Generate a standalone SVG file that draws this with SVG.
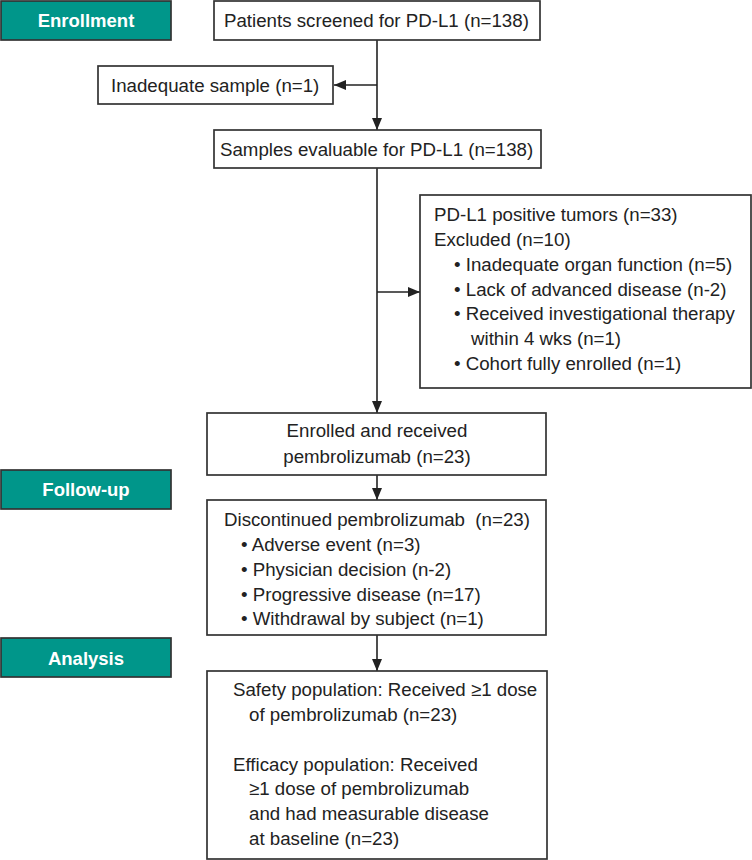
<svg xmlns="http://www.w3.org/2000/svg" width="752" height="860" viewBox="0 0 752 860">
<style>
  .box { fill: #ffffff; stroke: #333333; stroke-width: 1.7; }
  .stage { fill: #00968a; stroke: #333333; stroke-width: 1.7; }
  .t { font-family: "Liberation Sans", Arial, sans-serif; font-size: 18.7px; fill: #222222; }
  .st { font-family: "Liberation Sans", Arial, sans-serif; font-size: 18.5px; font-weight: bold; fill: #ffffff; text-anchor: middle; }
  .c { text-anchor: middle; }
  .conn { stroke: #222222; stroke-width: 1.6; fill: none; }
</style>
<defs>
  <marker id="arr" markerUnits="userSpaceOnUse" markerWidth="12" markerHeight="10" refX="12" refY="5" orient="auto">
    <path d="M0,0 L12,5 L0,10 z" fill="#222222"/>
  </marker>
</defs>
<rect width="752" height="860" fill="#ffffff"/>

<g id="stage-enrollment">
  <rect class="stage" x="1" y="1" width="170" height="39"/>
  <text class="st" x="86" y="27">Enrollment</text>
</g>
<g id="stage-followup">
  <rect class="stage" x="1" y="470" width="170" height="39"/>
  <text class="st" x="86" y="496">Follow-up</text>
</g>
<g id="stage-analysis">
  <rect class="stage" x="1" y="638" width="170" height="39"/>
  <text class="st" x="86" y="665">Analysis</text>
</g>

<g id="connectors">
  <line class="conn" x1="377" y1="40" x2="377" y2="130" marker-end="url(#arr)"/>
  <line class="conn" x1="377" y1="85" x2="334" y2="85" marker-end="url(#arr)"/>
  <line class="conn" x1="377" y1="168" x2="377" y2="413" marker-end="url(#arr)"/>
  <line class="conn" x1="377" y1="292" x2="420" y2="292" marker-end="url(#arr)"/>
  <line class="conn" x1="377" y1="475" x2="377" y2="500" marker-end="url(#arr)"/>
  <line class="conn" x1="377" y1="635" x2="377" y2="671" marker-end="url(#arr)"/>
</g>

<g id="screened">
  <rect class="box" x="214" y="1" width="326" height="39"/>
  <text class="t" x="224" y="27">Patients screened for PD-L1 (n=138)</text>
</g>
<g id="inadequate">
  <rect class="box" x="98" y="66" width="235" height="38"/>
  <text class="t" x="111" y="92">Inadequate sample (n=1)</text>
</g>
<g id="evaluable">
  <rect class="box" x="214" y="130" width="327" height="38"/>
  <text class="t" x="220" y="156">Samples evaluable for PD-L1 (n=138)</text>
</g>
<g id="excluded">
  <rect class="box" x="420" y="195" width="331" height="193"/>
  <text class="t" x="434" y="221">PD-L1 positive tumors (n=33)</text>
  <text class="t" x="434" y="246">Excluded (n=10)</text>
  <text class="t" x="454" y="271">• Inadequate organ function (n=5)</text>
  <text class="t" x="454" y="296">• Lack of advanced disease (n-2)</text>
  <text class="t" x="454" y="320">• Received investigational therapy</text>
  <text class="t" x="471" y="345">within 4 wks (n=1)</text>
  <text class="t" x="454" y="370">• Cohort fully enrolled (n=1)</text>
</g>
<g id="enrolled">
  <rect class="box" x="207" y="413" width="339" height="62"/>
  <text class="t c" x="377" y="437">Enrolled and received</text>
  <text class="t c" x="377" y="463">pembrolizumab (n=23)</text>
</g>
<g id="discontinued">
  <rect class="box" x="207" y="500" width="339" height="135"/>
  <text class="t" x="224" y="526" xml:space="preserve">Discontinued pembrolizumab  (n=23)</text>
  <text class="t" x="241" y="551">• Adverse event (n=3)</text>
  <text class="t" x="241" y="576">• Physician decision (n-2)</text>
  <text class="t" x="241" y="601">• Progressive disease (n=17)</text>
  <text class="t" x="241" y="625">• Withdrawal by subject (n=1)</text>
</g>
<g id="analysis">
  <rect class="box" x="207" y="671" width="340" height="188"/>
  <text class="t" x="233" y="696">Safety population: Received ≥1 dose</text>
  <text class="t" x="249" y="721">of pembrolizumab (n=23)</text>
  <text class="t" x="233" y="771">Efficacy population: Received</text>
  <text class="t" x="249" y="795">≥1 dose of pembrolizumab</text>
  <text class="t" x="249" y="820">and had measurable disease</text>
  <text class="t" x="249" y="845">at baseline (n=23)</text>
</g>
</svg>
